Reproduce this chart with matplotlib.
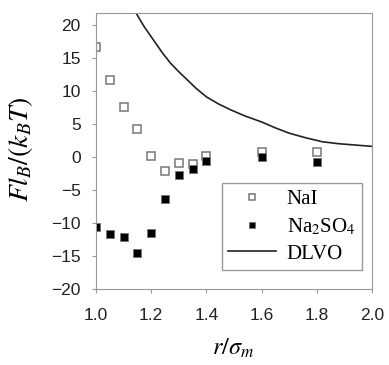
import matplotlib.pyplot as plt
import numpy as np

plt.rcParams['mathtext.fontset'] = 'stix'

# data
r_nai = [1.00, 1.05, 1.10, 1.15, 1.20, 1.25, 1.30, 1.35, 1.40, 1.60, 1.80]
f_nai = [16.7, 11.6, 7.6, 4.2, 0.1, -2.2, -0.9, -1.1, 0.2, 0.8, 0.7]

r_na2so4 = [1.00, 1.05, 1.10, 1.15, 1.20, 1.25, 1.30, 1.35, 1.40, 1.60, 1.80]
f_na2so4 = [-10.6, -11.7, -12.1, -14.6, -11.5, -6.4, -2.7, -1.8, -0.6, 0.0, -0.7]

r_dlvo = [1.145, 1.175, 1.21, 1.24, 1.27, 1.30, 1.33, 1.365, 1.40, 1.445, 1.49,
          1.54, 1.60, 1.65, 1.70, 1.76, 1.82, 1.88, 1.94, 2.00]
f_dlvo = [21.8, 19.7, 17.6, 15.8, 14.2, 12.9, 11.7, 10.3, 9.1, 8.0, 7.1,
          6.2, 5.3, 4.4, 3.6, 2.9, 2.3, 2.0, 1.8, 1.6]

fig = plt.figure(figsize=(3.89, 3.65), dpi=100)
ax = fig.add_axes([96/389, 1 - 289/365, 276/389, 276/365])

ax.plot(r_nai, f_nai, 's', ms=5.5, mfc='white', mec='#777777', mew=1.1, label='NaI')
ax.plot(r_na2so4, f_na2so4, 's', ms=5.5, mfc='black', mec='#777777', mew=0.7,
        label=r'Na$_2$SO$_4$')
ax.plot(r_dlvo, f_dlvo, '-', color='#222222', lw=1.2, label='DLVO')

ax.set_xlim(1.0, 2.0)
ax.set_ylim(-20, 21.8)
ax.set_xticks(np.arange(1.0, 2.01, 0.2))
ax.set_yticks(np.arange(-20, 21, 5))
ax.set_xticklabels(['1.0', '1.2', '1.4', '1.6', '1.8', '2.0'])

for s in ax.spines.values():
    s.set_color('#999999')
ax.tick_params(direction='out', length=3, color='#999999', labelsize=12.5,
               labelcolor='#222222')
ax.tick_params(axis='x', pad=11)
ax.tick_params(axis='y', pad=8)
for lab in ax.get_xticklabels() + ax.get_yticklabels():
    lab.set_family('Liberation Sans')

ax.set_xlabel(r'$r/\sigma_m$', fontsize=17.5)
ax.set_ylabel(r'$Fl_B/(k_BT)$', fontsize=20)
ax.xaxis.set_label_coords(0.496, -0.172)
ax.yaxis.set_label_coords(-0.221, 0.507)

leg = ax.legend(loc='upper left', bbox_to_anchor=(0.457, 0.384), borderaxespad=0,
                fancybox=False, edgecolor='#999999', framealpha=1,
                handlelength=2.3, markerscale=0.75,
                prop={'family': 'Liberation Serif', 'size': 15},
                borderpad=0.3, labelspacing=0.35, handletextpad=0.5)
leg.get_frame().set_linewidth(1.0)

fig.savefig('out.png', dpi=100)
